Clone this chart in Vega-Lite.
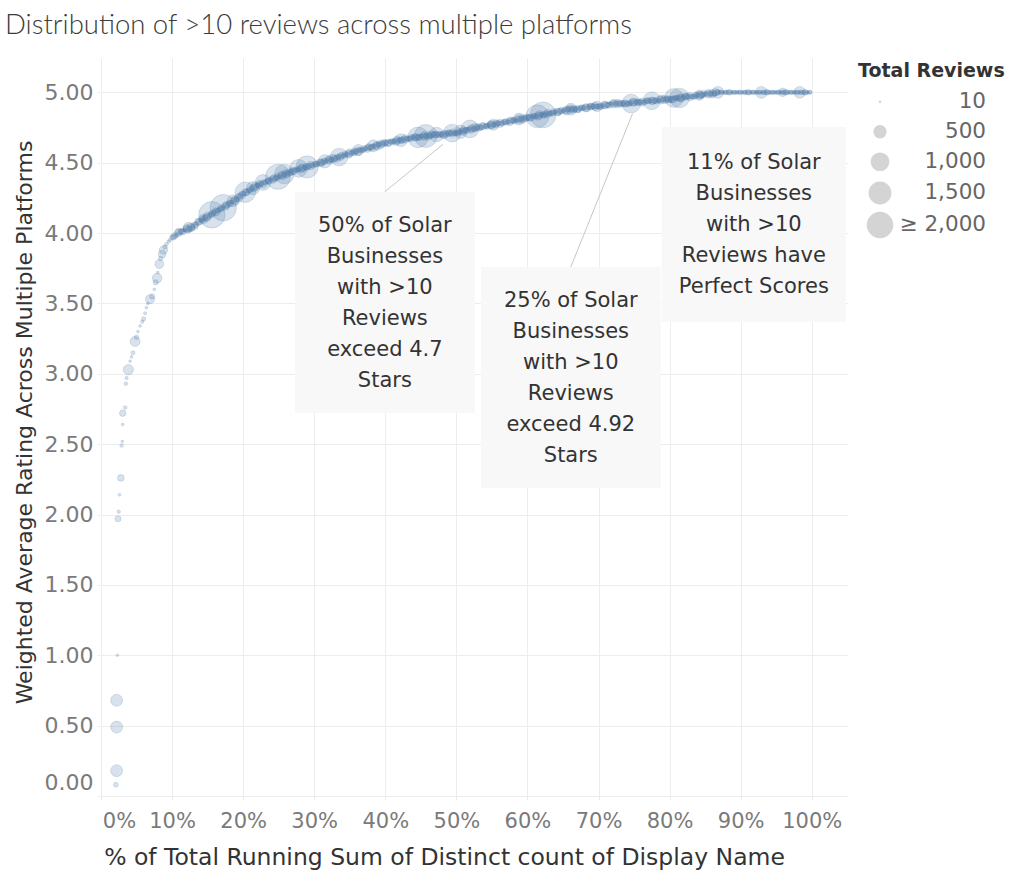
{
  "$schema": "https://vega.github.io/schema/vega-lite/v6.json",
  "width": 751,
  "height": 738,
  "autosize": {"type": "none"},
  "padding": {"left": 97, "top": 58, "right": 166, "bottom": 85},
  "background": "white",
  "title": {
    "text": "Distribution of >10 reviews across multiple platforms",
    "anchor": "start",
    "frame": "group",
    "dx": -92,
    "offset": -3,
    "baseline": "alphabetic",
    "font": "Lato",
    "fontSize": 27.5,
    "fontWeight": 300,
    "color": "#3c3c3c"
  },
  "datasets": {
    "points": [
      {"pct": 2.1, "rating": 0.08, "reviews": 60},
      {"pct": 2.2, "rating": 0.18, "reviews": 400},
      {"pct": 2.2, "rating": 0.49, "reviews": 400},
      {"pct": 2.2, "rating": 0.68, "reviews": 400},
      {"pct": 2.3, "rating": 1.0, "reviews": 12},
      {"pct": 2.4, "rating": 1.97, "reviews": 100},
      {"pct": 2.5, "rating": 2.02, "reviews": 25},
      {"pct": 2.6, "rating": 2.14, "reviews": 15},
      {"pct": 2.8, "rating": 2.26, "reviews": 120},
      {"pct": 2.9, "rating": 2.49, "reviews": 30},
      {"pct": 3.0, "rating": 2.52, "reviews": 12},
      {"pct": 3.05, "rating": 2.64, "reviews": 15},
      {"pct": 3.05, "rating": 2.72, "reviews": 110},
      {"pct": 3.4, "rating": 2.76, "reviews": 30},
      {"pct": 3.5, "rating": 2.93, "reviews": 30},
      {"pct": 3.6, "rating": 2.97, "reviews": 25},
      {"pct": 3.85, "rating": 3.03, "reviews": 300},
      {"pct": 4.1, "rating": 3.09, "reviews": 12},
      {"pct": 4.3, "rating": 3.12, "reviews": 15},
      {"pct": 4.5, "rating": 3.15, "reviews": 40},
      {"pct": 4.8, "rating": 3.23, "reviews": 280},
      {"pct": 5.0, "rating": 3.26, "reviews": 50},
      {"pct": 5.2, "rating": 3.3, "reviews": 15},
      {"pct": 5.5, "rating": 3.34, "reviews": 15},
      {"pct": 5.8, "rating": 3.37, "reviews": 25},
      {"pct": 6.0, "rating": 3.39, "reviews": 45},
      {"pct": 6.2, "rating": 3.43, "reviews": 20},
      {"pct": 6.4, "rating": 3.47, "reviews": 15},
      {"pct": 6.6, "rating": 3.5, "reviews": 15},
      {"pct": 6.9, "rating": 3.53, "reviews": 230},
      {"pct": 7.2, "rating": 3.55, "reviews": 70},
      {"pct": 7.5, "rating": 3.6, "reviews": 15},
      {"pct": 7.7, "rating": 3.65, "reviews": 70},
      {"pct": 7.9, "rating": 3.68, "reviews": 260},
      {"pct": 8.0, "rating": 3.72, "reviews": 15},
      {"pct": 8.2, "rating": 3.78, "reviews": 220},
      {"pct": 8.4, "rating": 3.82, "reviews": 50},
      {"pct": 8.6, "rating": 3.85, "reviews": 160},
      {"pct": 8.8, "rating": 3.88, "reviews": 200},
      {"pct": 9.0, "rating": 3.9, "reviews": 45},
      {"pct": 9.2, "rating": 3.92, "reviews": 35},
      {"pct": 9.5, "rating": 3.94, "reviews": 30},
      {"pct": 9.7, "rating": 3.95, "reviews": 25},
      {"pct": 10, "rating": 3.97, "reviews": 60},
      {"pct": 10.33, "rating": 3.98, "reviews": 110},
      {"pct": 10.67, "rating": 3.99, "reviews": 40},
      {"pct": 11, "rating": 4.01, "reviews": 150},
      {"pct": 11.33, "rating": 4.01, "reviews": 80},
      {"pct": 11.67, "rating": 4.02, "reviews": 30},
      {"pct": 12, "rating": 4.03, "reviews": 120},
      {"pct": 12.33, "rating": 4.03, "reviews": 70},
      {"pct": 12.67, "rating": 4.04, "reviews": 200},
      {"pct": 13, "rating": 4.05, "reviews": 50},
      {"pct": 13.33, "rating": 4.06, "reviews": 90},
      {"pct": 13.67, "rating": 4.08, "reviews": 140},
      {"pct": 14, "rating": 4.09, "reviews": 35},
      {"pct": 14.33, "rating": 4.1, "reviews": 100},
      {"pct": 14.67, "rating": 4.11, "reviews": 65},
      {"pct": 15, "rating": 4.12, "reviews": 180},
      {"pct": 15.33, "rating": 4.13, "reviews": 45},
      {"pct": 15.67, "rating": 4.14, "reviews": 130},
      {"pct": 16, "rating": 4.15, "reviews": 75},
      {"pct": 16.33, "rating": 4.16, "reviews": 55},
      {"pct": 16.67, "rating": 4.17, "reviews": 60},
      {"pct": 17, "rating": 4.18, "reviews": 110},
      {"pct": 17.33, "rating": 4.19, "reviews": 40},
      {"pct": 17.67, "rating": 4.2, "reviews": 150},
      {"pct": 18, "rating": 4.21, "reviews": 80},
      {"pct": 18.33, "rating": 4.22, "reviews": 30},
      {"pct": 18.67, "rating": 4.23, "reviews": 120},
      {"pct": 19, "rating": 4.24, "reviews": 70},
      {"pct": 19.33, "rating": 4.25, "reviews": 200},
      {"pct": 19.67, "rating": 4.27, "reviews": 50},
      {"pct": 20, "rating": 4.28, "reviews": 90},
      {"pct": 20.33, "rating": 4.29, "reviews": 140},
      {"pct": 20.67, "rating": 4.3, "reviews": 35},
      {"pct": 21, "rating": 4.31, "reviews": 100},
      {"pct": 21.33, "rating": 4.32, "reviews": 65},
      {"pct": 21.67, "rating": 4.33, "reviews": 180},
      {"pct": 22, "rating": 4.34, "reviews": 45},
      {"pct": 22.33, "rating": 4.35, "reviews": 130},
      {"pct": 22.67, "rating": 4.35, "reviews": 75},
      {"pct": 23, "rating": 4.36, "reviews": 55},
      {"pct": 23.33, "rating": 4.37, "reviews": 60},
      {"pct": 23.67, "rating": 4.37, "reviews": 110},
      {"pct": 24, "rating": 4.38, "reviews": 40},
      {"pct": 24.33, "rating": 4.39, "reviews": 150},
      {"pct": 24.67, "rating": 4.39, "reviews": 80},
      {"pct": 25, "rating": 4.4, "reviews": 30},
      {"pct": 25.33, "rating": 4.41, "reviews": 120},
      {"pct": 25.67, "rating": 4.41, "reviews": 70},
      {"pct": 26, "rating": 4.42, "reviews": 200},
      {"pct": 26.33, "rating": 4.43, "reviews": 50},
      {"pct": 26.67, "rating": 4.43, "reviews": 90},
      {"pct": 27, "rating": 4.44, "reviews": 140},
      {"pct": 27.33, "rating": 4.45, "reviews": 35},
      {"pct": 27.67, "rating": 4.45, "reviews": 100},
      {"pct": 28, "rating": 4.46, "reviews": 65},
      {"pct": 28.33, "rating": 4.46, "reviews": 180},
      {"pct": 28.67, "rating": 4.47, "reviews": 45},
      {"pct": 29, "rating": 4.47, "reviews": 130},
      {"pct": 29.33, "rating": 4.48, "reviews": 75},
      {"pct": 29.67, "rating": 4.48, "reviews": 55},
      {"pct": 30, "rating": 4.49, "reviews": 60},
      {"pct": 30.33, "rating": 4.49, "reviews": 110},
      {"pct": 30.67, "rating": 4.5, "reviews": 40},
      {"pct": 31, "rating": 4.5, "reviews": 150},
      {"pct": 31.33, "rating": 4.51, "reviews": 80},
      {"pct": 31.67, "rating": 4.51, "reviews": 30},
      {"pct": 32, "rating": 4.52, "reviews": 120},
      {"pct": 32.33, "rating": 4.52, "reviews": 70},
      {"pct": 32.67, "rating": 4.53, "reviews": 200},
      {"pct": 33, "rating": 4.53, "reviews": 50},
      {"pct": 33.33, "rating": 4.54, "reviews": 90},
      {"pct": 33.67, "rating": 4.54, "reviews": 140},
      {"pct": 34, "rating": 4.55, "reviews": 35},
      {"pct": 34.33, "rating": 4.56, "reviews": 100},
      {"pct": 34.67, "rating": 4.56, "reviews": 65},
      {"pct": 35, "rating": 4.57, "reviews": 180},
      {"pct": 35.33, "rating": 4.57, "reviews": 45},
      {"pct": 35.67, "rating": 4.58, "reviews": 130},
      {"pct": 36, "rating": 4.58, "reviews": 75},
      {"pct": 36.33, "rating": 4.59, "reviews": 55},
      {"pct": 36.67, "rating": 4.59, "reviews": 60},
      {"pct": 37, "rating": 4.6, "reviews": 110},
      {"pct": 37.33, "rating": 4.6, "reviews": 40},
      {"pct": 37.67, "rating": 4.61, "reviews": 150},
      {"pct": 38, "rating": 4.61, "reviews": 80},
      {"pct": 38.33, "rating": 4.62, "reviews": 30},
      {"pct": 38.67, "rating": 4.62, "reviews": 120},
      {"pct": 39, "rating": 4.63, "reviews": 70},
      {"pct": 39.33, "rating": 4.63, "reviews": 200},
      {"pct": 39.67, "rating": 4.64, "reviews": 50},
      {"pct": 40, "rating": 4.64, "reviews": 90},
      {"pct": 40.33, "rating": 4.64, "reviews": 140},
      {"pct": 40.67, "rating": 4.65, "reviews": 35},
      {"pct": 41, "rating": 4.65, "reviews": 100},
      {"pct": 41.33, "rating": 4.65, "reviews": 65},
      {"pct": 41.67, "rating": 4.66, "reviews": 180},
      {"pct": 42, "rating": 4.66, "reviews": 45},
      {"pct": 42.33, "rating": 4.66, "reviews": 130},
      {"pct": 42.67, "rating": 4.67, "reviews": 75},
      {"pct": 43, "rating": 4.67, "reviews": 55},
      {"pct": 43.33, "rating": 4.67, "reviews": 60},
      {"pct": 43.67, "rating": 4.68, "reviews": 110},
      {"pct": 44, "rating": 4.68, "reviews": 40},
      {"pct": 44.33, "rating": 4.68, "reviews": 150},
      {"pct": 44.67, "rating": 4.68, "reviews": 80},
      {"pct": 45, "rating": 4.69, "reviews": 30},
      {"pct": 45.33, "rating": 4.69, "reviews": 120},
      {"pct": 45.67, "rating": 4.69, "reviews": 70},
      {"pct": 46, "rating": 4.69, "reviews": 200},
      {"pct": 46.33, "rating": 4.69, "reviews": 50},
      {"pct": 46.67, "rating": 4.7, "reviews": 90},
      {"pct": 47, "rating": 4.7, "reviews": 140},
      {"pct": 47.33, "rating": 4.7, "reviews": 35},
      {"pct": 47.67, "rating": 4.7, "reviews": 100},
      {"pct": 48, "rating": 4.7, "reviews": 65},
      {"pct": 48.33, "rating": 4.7, "reviews": 180},
      {"pct": 48.67, "rating": 4.71, "reviews": 45},
      {"pct": 49, "rating": 4.71, "reviews": 130},
      {"pct": 49.33, "rating": 4.71, "reviews": 75},
      {"pct": 49.67, "rating": 4.71, "reviews": 55},
      {"pct": 50, "rating": 4.71, "reviews": 60},
      {"pct": 50.33, "rating": 4.72, "reviews": 110},
      {"pct": 50.67, "rating": 4.72, "reviews": 40},
      {"pct": 51, "rating": 4.73, "reviews": 150},
      {"pct": 51.33, "rating": 4.73, "reviews": 80},
      {"pct": 51.67, "rating": 4.74, "reviews": 30},
      {"pct": 52, "rating": 4.74, "reviews": 120},
      {"pct": 52.33, "rating": 4.74, "reviews": 70},
      {"pct": 52.67, "rating": 4.75, "reviews": 200},
      {"pct": 53, "rating": 4.75, "reviews": 50},
      {"pct": 53.33, "rating": 4.75, "reviews": 90},
      {"pct": 53.67, "rating": 4.76, "reviews": 140},
      {"pct": 54, "rating": 4.76, "reviews": 35},
      {"pct": 54.33, "rating": 4.76, "reviews": 100},
      {"pct": 54.67, "rating": 4.77, "reviews": 65},
      {"pct": 55, "rating": 4.77, "reviews": 180},
      {"pct": 55.33, "rating": 4.77, "reviews": 45},
      {"pct": 55.67, "rating": 4.78, "reviews": 130},
      {"pct": 56, "rating": 4.78, "reviews": 75},
      {"pct": 56.33, "rating": 4.78, "reviews": 55},
      {"pct": 56.67, "rating": 4.79, "reviews": 60},
      {"pct": 57, "rating": 4.79, "reviews": 110},
      {"pct": 57.33, "rating": 4.79, "reviews": 40},
      {"pct": 57.67, "rating": 4.8, "reviews": 150},
      {"pct": 58, "rating": 4.8, "reviews": 80},
      {"pct": 58.33, "rating": 4.8, "reviews": 30},
      {"pct": 58.67, "rating": 4.81, "reviews": 120},
      {"pct": 59, "rating": 4.81, "reviews": 70},
      {"pct": 59.33, "rating": 4.81, "reviews": 200},
      {"pct": 59.67, "rating": 4.82, "reviews": 50},
      {"pct": 60, "rating": 4.82, "reviews": 90},
      {"pct": 60.33, "rating": 4.82, "reviews": 140},
      {"pct": 60.67, "rating": 4.83, "reviews": 35},
      {"pct": 61, "rating": 4.83, "reviews": 100},
      {"pct": 61.33, "rating": 4.83, "reviews": 65},
      {"pct": 61.67, "rating": 4.84, "reviews": 180},
      {"pct": 62, "rating": 4.84, "reviews": 45},
      {"pct": 62.33, "rating": 4.84, "reviews": 130},
      {"pct": 62.67, "rating": 4.85, "reviews": 75},
      {"pct": 63, "rating": 4.85, "reviews": 55},
      {"pct": 63.33, "rating": 4.85, "reviews": 60},
      {"pct": 63.67, "rating": 4.86, "reviews": 110},
      {"pct": 64, "rating": 4.86, "reviews": 40},
      {"pct": 64.33, "rating": 4.86, "reviews": 150},
      {"pct": 64.67, "rating": 4.87, "reviews": 80},
      {"pct": 65, "rating": 4.87, "reviews": 30},
      {"pct": 65.33, "rating": 4.87, "reviews": 120},
      {"pct": 65.67, "rating": 4.88, "reviews": 70},
      {"pct": 66, "rating": 4.88, "reviews": 200},
      {"pct": 66.33, "rating": 4.88, "reviews": 50},
      {"pct": 66.67, "rating": 4.88, "reviews": 90},
      {"pct": 67, "rating": 4.88, "reviews": 140},
      {"pct": 67.33, "rating": 4.88, "reviews": 35},
      {"pct": 67.67, "rating": 4.89, "reviews": 100},
      {"pct": 68, "rating": 4.89, "reviews": 65},
      {"pct": 68.33, "rating": 4.89, "reviews": 180},
      {"pct": 68.67, "rating": 4.9, "reviews": 45},
      {"pct": 69, "rating": 4.9, "reviews": 130},
      {"pct": 69.33, "rating": 4.9, "reviews": 75},
      {"pct": 69.67, "rating": 4.9, "reviews": 55},
      {"pct": 70, "rating": 4.9, "reviews": 60},
      {"pct": 70.33, "rating": 4.9, "reviews": 110},
      {"pct": 70.67, "rating": 4.91, "reviews": 40},
      {"pct": 71, "rating": 4.91, "reviews": 150},
      {"pct": 71.33, "rating": 4.91, "reviews": 80},
      {"pct": 71.67, "rating": 4.92, "reviews": 30},
      {"pct": 72, "rating": 4.92, "reviews": 120},
      {"pct": 72.33, "rating": 4.92, "reviews": 70},
      {"pct": 72.67, "rating": 4.92, "reviews": 200},
      {"pct": 73, "rating": 4.92, "reviews": 50},
      {"pct": 73.33, "rating": 4.92, "reviews": 90},
      {"pct": 73.67, "rating": 4.92, "reviews": 140},
      {"pct": 74, "rating": 4.92, "reviews": 35},
      {"pct": 74.33, "rating": 4.92, "reviews": 100},
      {"pct": 74.67, "rating": 4.93, "reviews": 65},
      {"pct": 75, "rating": 4.93, "reviews": 180},
      {"pct": 75.33, "rating": 4.93, "reviews": 45},
      {"pct": 75.67, "rating": 4.93, "reviews": 130},
      {"pct": 76, "rating": 4.93, "reviews": 75},
      {"pct": 76.33, "rating": 4.93, "reviews": 55},
      {"pct": 76.67, "rating": 4.94, "reviews": 60},
      {"pct": 77, "rating": 4.94, "reviews": 110},
      {"pct": 77.33, "rating": 4.94, "reviews": 40},
      {"pct": 77.67, "rating": 4.94, "reviews": 150},
      {"pct": 78, "rating": 4.94, "reviews": 80},
      {"pct": 78.33, "rating": 4.94, "reviews": 30},
      {"pct": 78.67, "rating": 4.95, "reviews": 120},
      {"pct": 79, "rating": 4.95, "reviews": 70},
      {"pct": 79.33, "rating": 4.95, "reviews": 200},
      {"pct": 79.67, "rating": 4.95, "reviews": 50},
      {"pct": 80, "rating": 4.95, "reviews": 90},
      {"pct": 80.33, "rating": 4.95, "reviews": 140},
      {"pct": 80.67, "rating": 4.96, "reviews": 35},
      {"pct": 81, "rating": 4.96, "reviews": 100},
      {"pct": 81.33, "rating": 4.96, "reviews": 65},
      {"pct": 81.67, "rating": 4.96, "reviews": 180},
      {"pct": 82, "rating": 4.97, "reviews": 45},
      {"pct": 82.33, "rating": 4.97, "reviews": 130},
      {"pct": 82.67, "rating": 4.97, "reviews": 75},
      {"pct": 83, "rating": 4.97, "reviews": 55},
      {"pct": 83.33, "rating": 4.97, "reviews": 60},
      {"pct": 83.67, "rating": 4.98, "reviews": 110},
      {"pct": 84, "rating": 4.98, "reviews": 40},
      {"pct": 84.33, "rating": 4.98, "reviews": 150},
      {"pct": 84.67, "rating": 4.98, "reviews": 80},
      {"pct": 85, "rating": 4.99, "reviews": 30},
      {"pct": 85.33, "rating": 4.99, "reviews": 120},
      {"pct": 85.67, "rating": 4.99, "reviews": 70},
      {"pct": 86, "rating": 4.99, "reviews": 200},
      {"pct": 86.33, "rating": 4.99, "reviews": 50},
      {"pct": 86.67, "rating": 5.0, "reviews": 90},
      {"pct": 87, "rating": 5.0, "reviews": 30},
      {"pct": 87.33, "rating": 5.0, "reviews": 60},
      {"pct": 87.67, "rating": 5.0, "reviews": 20},
      {"pct": 88, "rating": 5.0, "reviews": 45},
      {"pct": 88.33, "rating": 5.0, "reviews": 80},
      {"pct": 88.67, "rating": 5.0, "reviews": 25},
      {"pct": 89, "rating": 5.0, "reviews": 50},
      {"pct": 89.33, "rating": 5.0, "reviews": 35},
      {"pct": 89.67, "rating": 5.0, "reviews": 30},
      {"pct": 90, "rating": 5.0, "reviews": 60},
      {"pct": 90.33, "rating": 5.0, "reviews": 20},
      {"pct": 90.67, "rating": 5.0, "reviews": 45},
      {"pct": 91, "rating": 5.0, "reviews": 80},
      {"pct": 91.33, "rating": 5.0, "reviews": 25},
      {"pct": 91.67, "rating": 5.0, "reviews": 50},
      {"pct": 92, "rating": 5.0, "reviews": 35},
      {"pct": 92.33, "rating": 5.0, "reviews": 30},
      {"pct": 92.67, "rating": 5.0, "reviews": 60},
      {"pct": 93, "rating": 5.0, "reviews": 20},
      {"pct": 93.33, "rating": 5.0, "reviews": 45},
      {"pct": 93.67, "rating": 5.0, "reviews": 80},
      {"pct": 94, "rating": 5.0, "reviews": 25},
      {"pct": 94.33, "rating": 5.0, "reviews": 50},
      {"pct": 94.67, "rating": 5.0, "reviews": 35},
      {"pct": 95, "rating": 5.0, "reviews": 30},
      {"pct": 95.33, "rating": 5.0, "reviews": 60},
      {"pct": 95.67, "rating": 5.0, "reviews": 20},
      {"pct": 96, "rating": 5.0, "reviews": 45},
      {"pct": 96.33, "rating": 5.0, "reviews": 80},
      {"pct": 96.67, "rating": 5.0, "reviews": 25},
      {"pct": 97, "rating": 5.0, "reviews": 50},
      {"pct": 97.33, "rating": 5.0, "reviews": 35},
      {"pct": 97.67, "rating": 5.0, "reviews": 30},
      {"pct": 98, "rating": 5.0, "reviews": 60},
      {"pct": 98.33, "rating": 5.0, "reviews": 20},
      {"pct": 98.67, "rating": 5.0, "reviews": 45},
      {"pct": 99, "rating": 5.0, "reviews": 80},
      {"pct": 99.33, "rating": 5.0, "reviews": 25},
      {"pct": 99.67, "rating": 5.0, "reviews": 50},
      {"pct": 99.8, "rating": 5.0, "reviews": 35},
      {"pct": 10.17, "rating": 3.97, "reviews": 90},
      {"pct": 10.5, "rating": 3.98, "reviews": 45},
      {"pct": 10.83, "rating": 4.0, "reviews": 160},
      {"pct": 11.17, "rating": 4.01, "reviews": 70},
      {"pct": 11.5, "rating": 4.01, "reviews": 120},
      {"pct": 11.83, "rating": 4.02, "reviews": 35},
      {"pct": 12.17, "rating": 4.03, "reviews": 210},
      {"pct": 12.5, "rating": 4.03, "reviews": 60},
      {"pct": 12.83, "rating": 4.04, "reviews": 100},
      {"pct": 13.17, "rating": 4.05, "reviews": 150},
      {"pct": 13.5, "rating": 4.07, "reviews": 50},
      {"pct": 13.83, "rating": 4.08, "reviews": 130},
      {"pct": 14.17, "rating": 4.09, "reviews": 80},
      {"pct": 14.5, "rating": 4.1, "reviews": 40},
      {"pct": 14.83, "rating": 4.11, "reviews": 170},
      {"pct": 15.17, "rating": 4.12, "reviews": 65},
      {"pct": 15.5, "rating": 4.13, "reviews": 110},
      {"pct": 15.83, "rating": 4.14, "reviews": 55},
      {"pct": 16.17, "rating": 4.15, "reviews": 190},
      {"pct": 16.5, "rating": 4.16, "reviews": 75},
      {"pct": 16.83, "rating": 4.17, "reviews": 90},
      {"pct": 17.17, "rating": 4.18, "reviews": 45},
      {"pct": 17.5, "rating": 4.19, "reviews": 160},
      {"pct": 17.83, "rating": 4.2, "reviews": 70},
      {"pct": 18.17, "rating": 4.21, "reviews": 120},
      {"pct": 18.5, "rating": 4.22, "reviews": 35},
      {"pct": 18.83, "rating": 4.23, "reviews": 210},
      {"pct": 19.17, "rating": 4.24, "reviews": 60},
      {"pct": 19.5, "rating": 4.26, "reviews": 100},
      {"pct": 19.83, "rating": 4.27, "reviews": 150},
      {"pct": 20.17, "rating": 4.28, "reviews": 50},
      {"pct": 20.5, "rating": 4.29, "reviews": 130},
      {"pct": 20.83, "rating": 4.3, "reviews": 80},
      {"pct": 21.17, "rating": 4.31, "reviews": 40},
      {"pct": 21.5, "rating": 4.32, "reviews": 170},
      {"pct": 21.83, "rating": 4.33, "reviews": 65},
      {"pct": 22.17, "rating": 4.34, "reviews": 110},
      {"pct": 22.5, "rating": 4.35, "reviews": 55},
      {"pct": 22.83, "rating": 4.35, "reviews": 190},
      {"pct": 23.17, "rating": 4.36, "reviews": 75},
      {"pct": 23.5, "rating": 4.37, "reviews": 90},
      {"pct": 23.83, "rating": 4.38, "reviews": 45},
      {"pct": 24.17, "rating": 4.38, "reviews": 160},
      {"pct": 24.5, "rating": 4.39, "reviews": 70},
      {"pct": 24.83, "rating": 4.4, "reviews": 120},
      {"pct": 25.17, "rating": 4.4, "reviews": 35},
      {"pct": 25.5, "rating": 4.41, "reviews": 210},
      {"pct": 25.83, "rating": 4.42, "reviews": 60},
      {"pct": 26.17, "rating": 4.42, "reviews": 100},
      {"pct": 26.5, "rating": 4.43, "reviews": 150},
      {"pct": 26.83, "rating": 4.44, "reviews": 50},
      {"pct": 27.17, "rating": 4.44, "reviews": 130},
      {"pct": 27.5, "rating": 4.45, "reviews": 80},
      {"pct": 27.83, "rating": 4.45, "reviews": 40},
      {"pct": 28.17, "rating": 4.46, "reviews": 170},
      {"pct": 28.5, "rating": 4.46, "reviews": 65},
      {"pct": 28.83, "rating": 4.47, "reviews": 110},
      {"pct": 29.17, "rating": 4.47, "reviews": 55},
      {"pct": 29.5, "rating": 4.48, "reviews": 190},
      {"pct": 29.83, "rating": 4.48, "reviews": 75},
      {"pct": 30.17, "rating": 4.49, "reviews": 90},
      {"pct": 30.5, "rating": 4.49, "reviews": 45},
      {"pct": 30.83, "rating": 4.5, "reviews": 160},
      {"pct": 31.17, "rating": 4.5, "reviews": 70},
      {"pct": 31.5, "rating": 4.51, "reviews": 120},
      {"pct": 31.83, "rating": 4.52, "reviews": 35},
      {"pct": 32.17, "rating": 4.52, "reviews": 210},
      {"pct": 32.5, "rating": 4.52, "reviews": 60},
      {"pct": 32.83, "rating": 4.53, "reviews": 100},
      {"pct": 33.17, "rating": 4.53, "reviews": 150},
      {"pct": 33.5, "rating": 4.54, "reviews": 50},
      {"pct": 33.83, "rating": 4.55, "reviews": 130},
      {"pct": 34.17, "rating": 4.55, "reviews": 80},
      {"pct": 34.5, "rating": 4.56, "reviews": 40},
      {"pct": 34.83, "rating": 4.56, "reviews": 170},
      {"pct": 35.17, "rating": 4.57, "reviews": 65},
      {"pct": 35.5, "rating": 4.57, "reviews": 110},
      {"pct": 35.83, "rating": 4.58, "reviews": 55},
      {"pct": 36.17, "rating": 4.58, "reviews": 190},
      {"pct": 36.5, "rating": 4.59, "reviews": 75},
      {"pct": 36.83, "rating": 4.59, "reviews": 90},
      {"pct": 37.17, "rating": 4.6, "reviews": 45},
      {"pct": 37.5, "rating": 4.6, "reviews": 160},
      {"pct": 37.83, "rating": 4.61, "reviews": 70},
      {"pct": 38.17, "rating": 4.61, "reviews": 120},
      {"pct": 38.5, "rating": 4.62, "reviews": 35},
      {"pct": 38.83, "rating": 4.62, "reviews": 210},
      {"pct": 39.17, "rating": 4.63, "reviews": 60},
      {"pct": 39.5, "rating": 4.63, "reviews": 100},
      {"pct": 39.83, "rating": 4.64, "reviews": 150},
      {"pct": 40.17, "rating": 4.64, "reviews": 50},
      {"pct": 40.5, "rating": 4.64, "reviews": 130},
      {"pct": 40.83, "rating": 4.65, "reviews": 80},
      {"pct": 41.17, "rating": 4.65, "reviews": 40},
      {"pct": 41.5, "rating": 4.65, "reviews": 170},
      {"pct": 41.83, "rating": 4.66, "reviews": 65},
      {"pct": 42.17, "rating": 4.66, "reviews": 110},
      {"pct": 42.5, "rating": 4.66, "reviews": 55},
      {"pct": 42.83, "rating": 4.67, "reviews": 190},
      {"pct": 43.17, "rating": 4.67, "reviews": 75},
      {"pct": 43.5, "rating": 4.67, "reviews": 90},
      {"pct": 43.83, "rating": 4.68, "reviews": 45},
      {"pct": 44.17, "rating": 4.68, "reviews": 160},
      {"pct": 44.5, "rating": 4.68, "reviews": 70},
      {"pct": 44.83, "rating": 4.68, "reviews": 120},
      {"pct": 45.17, "rating": 4.69, "reviews": 35},
      {"pct": 45.5, "rating": 4.69, "reviews": 210},
      {"pct": 45.83, "rating": 4.69, "reviews": 60},
      {"pct": 46.17, "rating": 4.69, "reviews": 100},
      {"pct": 46.5, "rating": 4.7, "reviews": 150},
      {"pct": 46.83, "rating": 4.7, "reviews": 50},
      {"pct": 47.17, "rating": 4.7, "reviews": 130},
      {"pct": 47.5, "rating": 4.7, "reviews": 80},
      {"pct": 47.83, "rating": 4.7, "reviews": 40},
      {"pct": 48.17, "rating": 4.7, "reviews": 170},
      {"pct": 48.5, "rating": 4.7, "reviews": 65},
      {"pct": 48.83, "rating": 4.71, "reviews": 110},
      {"pct": 49.17, "rating": 4.71, "reviews": 55},
      {"pct": 49.5, "rating": 4.71, "reviews": 190},
      {"pct": 49.83, "rating": 4.71, "reviews": 75},
      {"pct": 50.17, "rating": 4.71, "reviews": 90},
      {"pct": 50.5, "rating": 4.72, "reviews": 45},
      {"pct": 50.83, "rating": 4.72, "reviews": 160},
      {"pct": 51.17, "rating": 4.73, "reviews": 70},
      {"pct": 51.5, "rating": 4.73, "reviews": 120},
      {"pct": 51.83, "rating": 4.74, "reviews": 35},
      {"pct": 52.17, "rating": 4.74, "reviews": 210},
      {"pct": 52.5, "rating": 4.74, "reviews": 60},
      {"pct": 52.83, "rating": 4.75, "reviews": 100},
      {"pct": 53.17, "rating": 4.75, "reviews": 150},
      {"pct": 53.5, "rating": 4.75, "reviews": 50},
      {"pct": 53.83, "rating": 4.76, "reviews": 130},
      {"pct": 54.17, "rating": 4.76, "reviews": 80},
      {"pct": 54.5, "rating": 4.76, "reviews": 40},
      {"pct": 54.83, "rating": 4.77, "reviews": 170},
      {"pct": 55.17, "rating": 4.77, "reviews": 65},
      {"pct": 55.5, "rating": 4.77, "reviews": 110},
      {"pct": 55.83, "rating": 4.78, "reviews": 55},
      {"pct": 56.17, "rating": 4.78, "reviews": 190},
      {"pct": 56.5, "rating": 4.78, "reviews": 75},
      {"pct": 56.83, "rating": 4.79, "reviews": 90},
      {"pct": 57.17, "rating": 4.79, "reviews": 45},
      {"pct": 57.5, "rating": 4.79, "reviews": 160},
      {"pct": 57.83, "rating": 4.8, "reviews": 70},
      {"pct": 58.17, "rating": 4.8, "reviews": 120},
      {"pct": 58.5, "rating": 4.8, "reviews": 35},
      {"pct": 58.83, "rating": 4.81, "reviews": 210},
      {"pct": 59.17, "rating": 4.81, "reviews": 60},
      {"pct": 59.5, "rating": 4.81, "reviews": 100},
      {"pct": 59.83, "rating": 4.82, "reviews": 150},
      {"pct": 60.17, "rating": 4.82, "reviews": 50},
      {"pct": 60.5, "rating": 4.82, "reviews": 130},
      {"pct": 60.83, "rating": 4.83, "reviews": 80},
      {"pct": 61.17, "rating": 4.83, "reviews": 40},
      {"pct": 61.5, "rating": 4.83, "reviews": 170},
      {"pct": 61.83, "rating": 4.84, "reviews": 65},
      {"pct": 62.17, "rating": 4.84, "reviews": 110},
      {"pct": 62.5, "rating": 4.84, "reviews": 55},
      {"pct": 62.83, "rating": 4.85, "reviews": 190},
      {"pct": 63.17, "rating": 4.85, "reviews": 75},
      {"pct": 63.5, "rating": 4.85, "reviews": 90},
      {"pct": 63.83, "rating": 4.86, "reviews": 45},
      {"pct": 64.17, "rating": 4.86, "reviews": 160},
      {"pct": 64.5, "rating": 4.86, "reviews": 70},
      {"pct": 64.83, "rating": 4.87, "reviews": 120},
      {"pct": 65.17, "rating": 4.87, "reviews": 35},
      {"pct": 65.5, "rating": 4.87, "reviews": 210},
      {"pct": 65.83, "rating": 4.88, "reviews": 60},
      {"pct": 66.17, "rating": 4.88, "reviews": 100},
      {"pct": 66.5, "rating": 4.88, "reviews": 150},
      {"pct": 66.83, "rating": 4.88, "reviews": 50},
      {"pct": 67.17, "rating": 4.88, "reviews": 130},
      {"pct": 67.5, "rating": 4.89, "reviews": 80},
      {"pct": 67.83, "rating": 4.89, "reviews": 40},
      {"pct": 68.17, "rating": 4.89, "reviews": 170},
      {"pct": 68.5, "rating": 4.89, "reviews": 65},
      {"pct": 68.83, "rating": 4.9, "reviews": 110},
      {"pct": 69.17, "rating": 4.9, "reviews": 55},
      {"pct": 69.5, "rating": 4.9, "reviews": 190},
      {"pct": 69.83, "rating": 4.9, "reviews": 75},
      {"pct": 70.17, "rating": 4.9, "reviews": 90},
      {"pct": 70.5, "rating": 4.9, "reviews": 45},
      {"pct": 70.83, "rating": 4.91, "reviews": 160},
      {"pct": 71.17, "rating": 4.91, "reviews": 70},
      {"pct": 71.5, "rating": 4.91, "reviews": 120},
      {"pct": 71.83, "rating": 4.92, "reviews": 35},
      {"pct": 72.17, "rating": 4.92, "reviews": 210},
      {"pct": 72.5, "rating": 4.92, "reviews": 60},
      {"pct": 72.83, "rating": 4.92, "reviews": 100},
      {"pct": 73.17, "rating": 4.92, "reviews": 150},
      {"pct": 73.5, "rating": 4.92, "reviews": 50},
      {"pct": 73.83, "rating": 4.92, "reviews": 130},
      {"pct": 74.17, "rating": 4.92, "reviews": 80},
      {"pct": 74.5, "rating": 4.92, "reviews": 40},
      {"pct": 74.83, "rating": 4.93, "reviews": 170},
      {"pct": 75.17, "rating": 4.93, "reviews": 65},
      {"pct": 75.5, "rating": 4.93, "reviews": 110},
      {"pct": 75.83, "rating": 4.93, "reviews": 55},
      {"pct": 76.17, "rating": 4.93, "reviews": 190},
      {"pct": 76.5, "rating": 4.93, "reviews": 75},
      {"pct": 76.83, "rating": 4.94, "reviews": 90},
      {"pct": 77.17, "rating": 4.94, "reviews": 45},
      {"pct": 77.5, "rating": 4.94, "reviews": 160},
      {"pct": 77.83, "rating": 4.94, "reviews": 70},
      {"pct": 78.17, "rating": 4.94, "reviews": 120},
      {"pct": 78.5, "rating": 4.94, "reviews": 35},
      {"pct": 78.83, "rating": 4.95, "reviews": 210},
      {"pct": 79.17, "rating": 4.95, "reviews": 60},
      {"pct": 79.5, "rating": 4.95, "reviews": 100},
      {"pct": 79.83, "rating": 4.95, "reviews": 150},
      {"pct": 80.17, "rating": 4.95, "reviews": 50},
      {"pct": 80.5, "rating": 4.95, "reviews": 130},
      {"pct": 80.83, "rating": 4.96, "reviews": 80},
      {"pct": 81.17, "rating": 4.96, "reviews": 40},
      {"pct": 81.5, "rating": 4.96, "reviews": 170},
      {"pct": 81.83, "rating": 4.96, "reviews": 65},
      {"pct": 82.17, "rating": 4.97, "reviews": 110},
      {"pct": 82.5, "rating": 4.97, "reviews": 55},
      {"pct": 82.83, "rating": 4.97, "reviews": 190},
      {"pct": 83.17, "rating": 4.97, "reviews": 75},
      {"pct": 83.5, "rating": 4.97, "reviews": 90},
      {"pct": 83.83, "rating": 4.98, "reviews": 45},
      {"pct": 84.17, "rating": 4.98, "reviews": 160},
      {"pct": 84.5, "rating": 4.98, "reviews": 70},
      {"pct": 84.83, "rating": 4.99, "reviews": 120},
      {"pct": 85.17, "rating": 4.99, "reviews": 35},
      {"pct": 85.5, "rating": 4.99, "reviews": 210},
      {"pct": 85.83, "rating": 4.99, "reviews": 60},
      {"pct": 86.17, "rating": 4.99, "reviews": 100},
      {"pct": 86.5, "rating": 5.0, "reviews": 150},
      {"pct": 86.83, "rating": 5.0, "reviews": 50},
      {"pct": 87.17, "rating": 5.0, "reviews": 40},
      {"pct": 87.5, "rating": 5.0, "reviews": 25},
      {"pct": 87.83, "rating": 5.0, "reviews": 55},
      {"pct": 88.17, "rating": 5.0, "reviews": 30},
      {"pct": 88.5, "rating": 5.0, "reviews": 70},
      {"pct": 88.83, "rating": 5.0, "reviews": 20},
      {"pct": 89.17, "rating": 5.0, "reviews": 45},
      {"pct": 89.5, "rating": 5.0, "reviews": 35},
      {"pct": 89.83, "rating": 5.0, "reviews": 40},
      {"pct": 90.17, "rating": 5.0, "reviews": 25},
      {"pct": 90.5, "rating": 5.0, "reviews": 55},
      {"pct": 90.83, "rating": 5.0, "reviews": 30},
      {"pct": 91.17, "rating": 5.0, "reviews": 70},
      {"pct": 91.5, "rating": 5.0, "reviews": 20},
      {"pct": 91.83, "rating": 5.0, "reviews": 45},
      {"pct": 92.17, "rating": 5.0, "reviews": 35},
      {"pct": 92.5, "rating": 5.0, "reviews": 40},
      {"pct": 92.83, "rating": 5.0, "reviews": 25},
      {"pct": 93.17, "rating": 5.0, "reviews": 55},
      {"pct": 93.5, "rating": 5.0, "reviews": 30},
      {"pct": 93.83, "rating": 5.0, "reviews": 70},
      {"pct": 94.17, "rating": 5.0, "reviews": 20},
      {"pct": 94.5, "rating": 5.0, "reviews": 45},
      {"pct": 94.83, "rating": 5.0, "reviews": 35},
      {"pct": 95.17, "rating": 5.0, "reviews": 40},
      {"pct": 95.5, "rating": 5.0, "reviews": 25},
      {"pct": 95.83, "rating": 5.0, "reviews": 55},
      {"pct": 96.17, "rating": 5.0, "reviews": 30},
      {"pct": 96.5, "rating": 5.0, "reviews": 70},
      {"pct": 96.83, "rating": 5.0, "reviews": 20},
      {"pct": 97.17, "rating": 5.0, "reviews": 45},
      {"pct": 97.5, "rating": 5.0, "reviews": 35},
      {"pct": 97.83, "rating": 5.0, "reviews": 40},
      {"pct": 98.17, "rating": 5.0, "reviews": 25},
      {"pct": 98.5, "rating": 5.0, "reviews": 55},
      {"pct": 98.83, "rating": 5.0, "reviews": 30},
      {"pct": 99.17, "rating": 5.0, "reviews": 70},
      {"pct": 99.5, "rating": 5.0, "reviews": 20},
      {"pct": 12.3, "rating": 4.04, "reviews": 300},
      {"pct": 14.4, "rating": 4.1, "reviews": 250},
      {"pct": 15.6, "rating": 4.13, "reviews": 2400},
      {"pct": 17.2, "rating": 4.18, "reviews": 2100},
      {"pct": 18.6, "rating": 4.23, "reviews": 400},
      {"pct": 20.3, "rating": 4.29, "reviews": 1200},
      {"pct": 21.4, "rating": 4.32, "reviews": 500},
      {"pct": 22.8, "rating": 4.36, "reviews": 700},
      {"pct": 24.9, "rating": 4.4, "reviews": 1800},
      {"pct": 25.8, "rating": 4.42, "reviews": 1100},
      {"pct": 27.8, "rating": 4.46, "reviews": 900},
      {"pct": 29.0, "rating": 4.47, "reviews": 1400},
      {"pct": 31.5, "rating": 4.51, "reviews": 500},
      {"pct": 33.5, "rating": 4.54, "reviews": 900},
      {"pct": 36.2, "rating": 4.59, "reviews": 350},
      {"pct": 38.3, "rating": 4.62, "reviews": 400},
      {"pct": 42.2, "rating": 4.66, "reviews": 450},
      {"pct": 44.6, "rating": 4.68, "reviews": 1200},
      {"pct": 45.7, "rating": 4.69, "reviews": 1500},
      {"pct": 47.2, "rating": 4.7, "reviews": 600},
      {"pct": 49.4, "rating": 4.71, "reviews": 900},
      {"pct": 50.6, "rating": 4.72, "reviews": 500},
      {"pct": 51.9, "rating": 4.74, "reviews": 900},
      {"pct": 55.2, "rating": 4.77, "reviews": 350},
      {"pct": 58.8, "rating": 4.81, "reviews": 400},
      {"pct": 61.4, "rating": 4.83, "reviews": 1500},
      {"pct": 62.2, "rating": 4.84, "reviews": 1900},
      {"pct": 66.1, "rating": 4.88, "reviews": 400},
      {"pct": 69.8, "rating": 4.9, "reviews": 300},
      {"pct": 74.6, "rating": 4.92, "reviews": 1000},
      {"pct": 77.5, "rating": 4.94, "reviews": 900},
      {"pct": 80.6, "rating": 4.96, "reviews": 1000},
      {"pct": 81.4, "rating": 4.96, "reviews": 1100},
      {"pct": 84.2, "rating": 4.98, "reviews": 300},
      {"pct": 86.8, "rating": 5.0, "reviews": 400},
      {"pct": 92.9, "rating": 5.0, "reviews": 400},
      {"pct": 95.9, "rating": 5.0, "reviews": 200},
      {"pct": 98.3, "rating": 5.0, "reviews": 400}
    ],
    "notes": [
      {"left": 27.29, "right": 52.6, "top": 4.292, "bottom": 2.721, "cx": 39.94, "firstLine": 4.05, "label": "50% of Solar\nBusinesses\nwith >10\nReviews\nexceed 4.7\nStars"},
      {"left": 53.45, "right": 78.76, "top": 3.759, "bottom": 2.188, "cx": 66.1, "firstLine": 3.517, "label": "25% of Solar\nBusinesses\nwith >10\nReviews\nexceed 4.92\nStars"},
      {"left": 78.9, "right": 104.8, "top": 4.753, "bottom": 3.368, "cx": 91.85, "firstLine": 4.498, "label": "11% of Solar\nBusinesses\nwith >10\nReviews have\nPerfect Scores"}
    ],
    "leaders": [
      {"fromPct": 39.9, "fromRating": 4.292, "toPct": 48.1, "toRating": 4.63},
      {"fromPct": 66.1, "fromRating": 3.759, "toPct": 74.8, "toRating": 4.85}
    ],
    "legendKeys": []
  },
  "layer": [
    {
      "data": {"name": "legendKeys"},
      "mark": {
        "type": "circle",
        "color": "#d4d4d4",
        "stroke": "#a8a8a8",
        "strokeWidth": 1,
        "opacity": 1
      },
      "encoding": {
        "size": {
          "field": "reviews",
          "type": "quantitative",
          "scale": {"domain": [10, 2000], "range": [6, 700], "clamp": true, "zero": false},
          "legend": {
            "title": "Total Reviews",
            "values": [10, 500, 1000, 1500, 2000],
            "labelExpr": "datum.value >= 2000 ? '≥ 2,000' : format(datum.value, ',')",
            "orient": "right",
            "offset": 6,
            "padding": 4,
            "symbolOffset": 8,
            "symbolFillColor": "#d4d4d4",
            "symbolStrokeColor": "#a8a8a8",
            "symbolStrokeWidth": 1,
            "symbolOpacity": 1,
            "labelAlign": "right",
            "labelOffset": 92,
            "labelFontSize": 21.5,
            "gridAlign": "all",
            "rowPadding": -2,
            "titlePadding": 10
          }
        }
      }
    },
    {
      "data": {"name": "points"},
      "mark": {
        "type": "circle",
        "color": "#4e79a7",
        "fillOpacity": 0.22,
        "stroke": "#4e79a7",
        "strokeOpacity": 0.25,
        "strokeWidth": 0.8
      },
      "encoding": {
        "x": {
          "field": "pct",
          "type": "quantitative",
          "title": "% of Total Running Sum of Distinct count of Display Name",
          "scale": {"domain": [-0.56, 105.1], "nice": false, "zero": false},
          "axis": {
            "values": [0, 10, 20, 30, 40, 50, 60, 70, 80, 90, 100],
            "labelExpr": "datum.value + '%'",
            "domain": false,
            "ticks": true,
            "tickSize": 4,
            "tickColor": "#e8e8e8",
            "labelFontSize": 21,
            "labelPadding": 10,
            "labelOffset": {"condition": {"test": "datum.value == 0", "value": 18}, "value": 0},
            "titleFontSize": 23.5,
            "titlePadding": 14,
            "titleX": 347
          }
        },
        "y": {
          "field": "rating",
          "type": "quantitative",
          "title": "Weighted Average Rating Across Multiple Platforms",
          "scale": {"domain": [0, 5.244], "nice": false},
          "axis": {
            "values": [0, 0.5, 1, 1.5, 2, 2.5, 3, 3.5, 4, 4.5, 5],
            "format": ".2f",
            "domain": false,
            "ticks": false,
            "labelFontSize": 22,
            "labelPadding": 4,
            "labelOffset": {"condition": {"test": "datum.value == 0", "value": -14}, "value": 0},
            "titleFontSize": 22,
            "titlePadding": 8,
            "titleY": 364
          }
        },
        "size": {
          "field": "reviews",
          "type": "quantitative",
          "scale": {"domain": [10, 2000], "range": [6, 700], "clamp": true, "zero": false},
          "legend": null
        }
      }
    },
    {
      "data": {"name": "notes"},
      "mark": {"type": "rect", "color": "#f8f8f8"},
      "encoding": {
        "x": {"field": "left", "type": "quantitative", "title": "% of Total Running Sum of Distinct count of Display Name"},
        "x2": {"field": "right"},
        "y": {"field": "top", "type": "quantitative", "title": "Weighted Average Rating Across Multiple Platforms"},
        "y2": {"field": "bottom"}
      }
    },
    {
      "data": {"name": "leaders"},
      "mark": {"type": "rule", "color": "#c6c6c6", "strokeWidth": 1},
      "encoding": {
        "x": {"field": "fromPct", "type": "quantitative", "title": "% of Total Running Sum of Distinct count of Display Name"},
        "x2": {"field": "toPct"},
        "y": {"field": "fromRating", "type": "quantitative", "title": "Weighted Average Rating Across Multiple Platforms"},
        "y2": {"field": "toRating"}
      }
    },
    {
      "data": {"name": "notes"},
      "mark": {
        "type": "text",
        "font": "DejaVu Sans",
        "fontSize": 21,
        "lineBreak": "\n",
        "lineHeight": 31,
        "align": "center",
        "baseline": "middle",
        "color": "#333333"
      },
      "encoding": {
        "x": {"field": "cx", "type": "quantitative", "title": "% of Total Running Sum of Distinct count of Display Name"},
        "y": {"field": "firstLine", "type": "quantitative", "title": "Weighted Average Rating Across Multiple Platforms"},
        "text": {"field": "label"}
      }
    }
  ],
  "config": {
    "view": {"stroke": null},
    "axis": {
      "gridColor": "#ededed",
      "labelFont": "DejaVu Sans",
      "labelFontSize": 20,
      "labelColor": "#7a7a7a",
      "titleFont": "DejaVu Sans",
      "titleFontSize": 20,
      "titleFontWeight": "normal",
      "titleColor": "#333333"
    },
    "legend": {
      "titleFont": "DejaVu Sans",
      "titleFontSize": 19,
      "titleFontWeight": "bold",
      "titleColor": "#333333",
      "labelFont": "DejaVu Sans",
      "labelFontSize": 20,
      "labelColor": "#666666"
    }
  }
}
